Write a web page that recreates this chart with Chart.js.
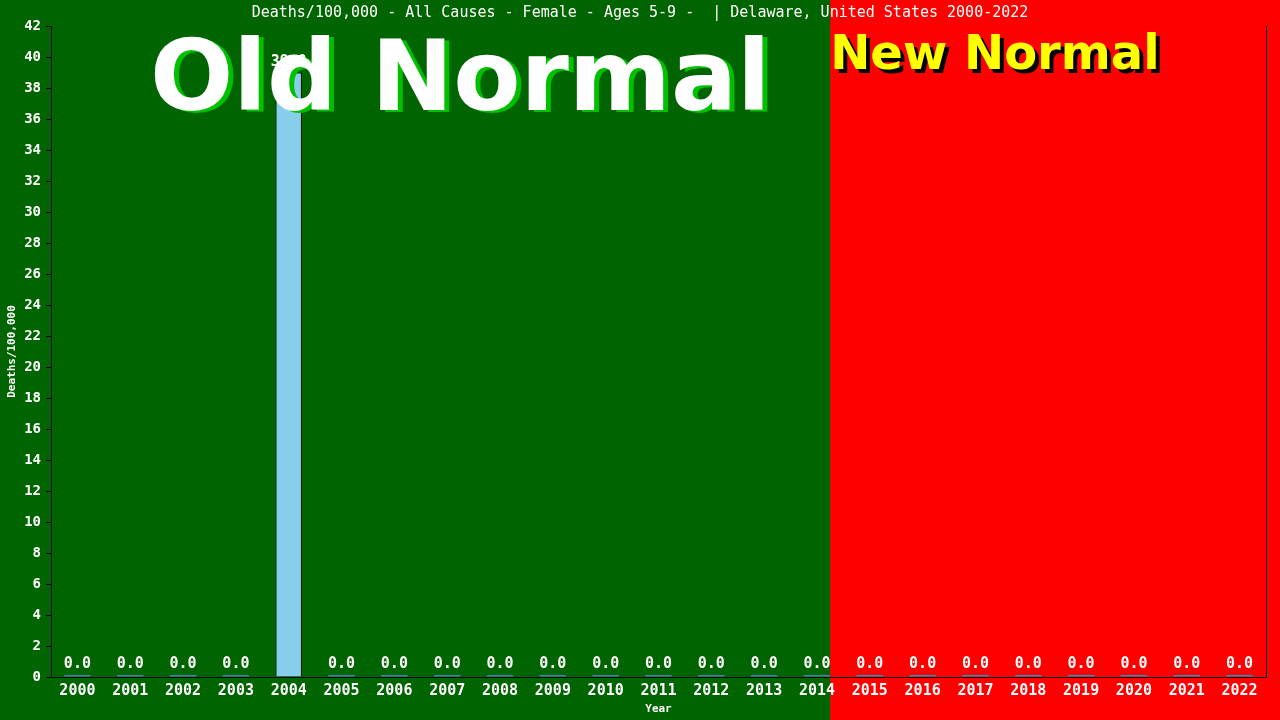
<!DOCTYPE html>
<html>
<head>
<meta charset="utf-8">
<script src="https://cdn.jsdelivr.net/npm/chart.js@4/dist/chart.umd.min.js"></script>
<style>
  html, body { margin: 0; padding: 0; background: #006400; }
  #wrap { width: 1280px; height: 720px; }
</style>
</head>
<body>
<div id="wrap"><canvas id="deaths" width="1280" height="720"></canvas></div>
<script>
const years = ["2000", "2001", "2002", "2003", "2004", "2005", "2006", "2007", "2008", "2009", "2010", "2011",
    "2012", "2013", "2014", "2015", "2016", "2017", "2018", "2019", "2020", "2021", "2022"];
const deathRate = [0, 0, 0, 0, 39, 0, 0, 0, 0, 0, 0, 0, 0, 0, 0, 0, 0, 0, 0, 0, 0, 0, 0];
const yMin = 0;
const yMax = 42;
const yStep = 2;
const lastOldYear = "2014";

const chartTitle = "Deaths/100,000 - All Causes - Female - Ages 5-9 -  | Delaware, United States 2000-2022";
const yTitle = "Deaths/100,000";
const xTitle = "Year";

const mono = "'DejaVu Sans Mono', 'Liberation Mono', monospace";
const sans = "'DejaVu Sans', Verdana, sans-serif";

const normalPlugin = {
    id: "normals",
    beforeDraw(chart) {
        const ctx = chart.ctx;
        const x = chart.scales.x;
        const i = years.indexOf(lastOldYear);
        const split = x.getPixelForValue(i) + 0.25 * (x.getPixelForValue(i + 1) - x.getPixelForValue(i));
        ctx.save();
        ctx.fillStyle = "#006400";
        ctx.fillRect(0, 0, chart.width, chart.height);
        ctx.fillStyle = "#ff0000";
        ctx.fillRect(split, 0, chart.width - split, chart.height);
        ctx.restore();
        chart.$split = split;
    },
    afterDatasetsDraw(chart) {
        const ctx = chart.ctx;
        const meta = chart.getDatasetMeta(0);
        ctx.save();
        ctx.font = "bold 15px " + mono;
        ctx.fillStyle = "#ffffff";
        ctx.textAlign = "center";
        ctx.textBaseline = "bottom";
        meta.data.forEach((bar, i) => {
            ctx.fillText(deathRate[i].toFixed(1), bar.x, bar.y - 3);
        });
        ctx.restore();
    },
    afterDraw(chart) {
        const ctx = chart.ctx;
        const area = chart.chartArea;
        ctx.save();

        // right border of the plot
        ctx.strokeStyle = "#000";
        ctx.lineWidth = 1;
        ctx.beginPath();
        ctx.moveTo(area.right + 0.5, area.top);
        ctx.lineTo(area.right + 0.5, area.bottom);
        ctx.stroke();

        // Old Normal
        ctx.font = "bold 98px " + sans;
        ctx.textAlign = "left";
        ctx.textBaseline = "alphabetic";
        ctx.fillStyle = "#00c000";
        ctx.fillText("Old Normal", area.left + 104, area.top + 86);
        ctx.fillStyle = "#ffffff";
        ctx.fillText("Old Normal", area.left + 99, area.top + 84);

        // New Normal
        ctx.font = "bold 48px " + sans;
        ctx.fillStyle = "#000000";
        ctx.fillText("New Normal", chart.$split + 4, area.top + 47);
        ctx.fillStyle = "#ffff00";
        ctx.fillText("New Normal", chart.$split, area.top + 43);

        // title
        ctx.font = "15px " + mono;
        ctx.fillStyle = "#ffffff";
        ctx.textAlign = "center";
        ctx.textBaseline = "middle";
        ctx.fillText(chartTitle, chart.width / 2, 13);

        // axis titles
        ctx.font = "bold 11px " + mono;
        ctx.fillText(xTitle, (area.left + area.right) / 2, 709);
        ctx.translate(12, (area.top + area.bottom) / 2);
        ctx.rotate(-Math.PI / 2);
        ctx.fillText(yTitle, 0, 0);
        ctx.restore();
    }
};

new Chart(document.getElementById("deaths"), {
    type: "bar",
    data: {
        labels: years,
        datasets: [
            {
                label: "Deaths/100,000",
                data: deathRate,
                backgroundColor: (c) => (c.raw === 0 ? "#4682b4" : "#87ceeb"),
                borderColor: "#000000",
                borderWidth: (c) => (c.raw === 0 ? 0 : 1),
                minBarLength: 2,
                barPercentage: 0.5,
                categoryPercentage: 1.0,
            },
        ],
    },
    options: {
        responsive: false,
        animation: false,
        devicePixelRatio: 1,
        layout: {
            padding: { top: 26, right: 14, left: 0, bottom: 0 },
        },
        plugins: {
            legend: { display: false },
            title: { display: false },
            tooltip: { enabled: false },
        },
        scales: {
            x: {
                grid: { display: false, drawTicks: false },
                border: { color: "#000000", width: 1 },
                ticks: {
                    color: "#ffffff",
                    padding: 5,
                    maxRotation: 0,
                    autoSkip: false,
                    font: { family: mono, size: 15, weight: "bold" },
                },
                afterFit(scale) {
                    scale.height = 43;
                },
            },
            y: {
                min: yMin,
                max: yMax,
                grid: { drawOnChartArea: false, color: "#000000", tickLength: 5 },
                border: { color: "#000000", width: 1 },
                ticks: {
                    stepSize: yStep,
                    color: "#ffffff",
                    padding: 5,
                    font: { family: mono, size: 14, weight: "bold" },
                },
                afterFit(scale) {
                    scale.width = 51;
                },
            },
        },
    },
    plugins: [normalPlugin],
});
</script>
</body>
</html>
